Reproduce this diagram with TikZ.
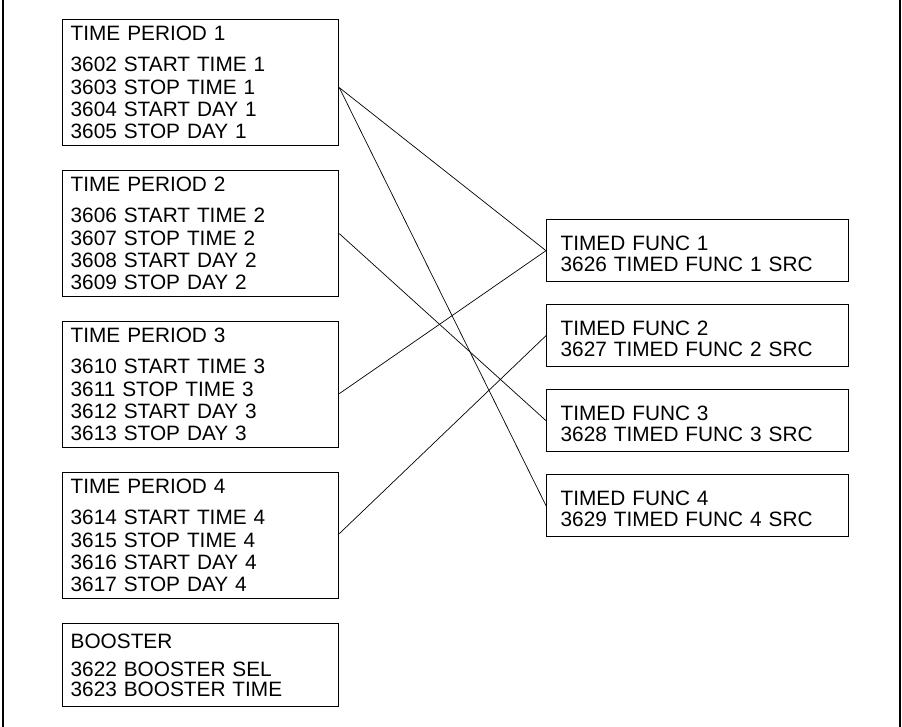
\documentclass[tikz,border=0pt]{standalone}
\usepackage{fontspec}
\setmainfont{Liberation Sans}
\usetikzlibrary{positioning}

\begin{document}
\begin{tikzpicture}[x=1pt,y=-1pt,node distance=23.7pt,
  box/.style={draw,line width=1.3pt,align=left,inner ysep=0pt,
    font=\fontsize{20.8}{22.3}\selectfont},
  period/.style={box,anchor=north west,text width=260pt,inner xsep=8pt,minimum height=126pt},
  timed/.style={box,anchor=north west,text width=274pt,inner xsep=14pt,minimum height=62pt,
    execute at begin node=\rule{0pt}{21pt}},
  link/.style={line width=0.7pt}]
\useasboundingbox (0,0) rectangle (902,727);
% side rules of the page frame
\draw[line width=1.3pt] (3,0) -- (3,727);
\draw[line width=1.3pt] (900,0) -- (900,727);
% time periods, stacked down the left side
\node[period] (tp1) at (62,19)
  {TIME PERIOD 1\\[8.5pt]3602 START TIME 1\\3603 STOP TIME 1\\3604 START DAY 1\\3605 STOP DAY 1};
\node[period,below=of tp1] (tp2)
  {TIME PERIOD 2\\[8.5pt]3606 START TIME 2\\3607 STOP TIME 2\\3608 START DAY 2\\3609 STOP DAY 2};
\node[period,below=of tp2] (tp3)
  {TIME PERIOD 3\\[8.5pt]3610 START TIME 3\\3611 STOP TIME 3\\3612 START DAY 3\\3613 STOP DAY 3};
\node[period,below=of tp3] (tp4)
  {TIME PERIOD 4\\[8.5pt]3614 START TIME 4\\3615 STOP TIME 4\\3616 START DAY 4\\3617 STOP DAY 4};
\node[period,below=of tp4,minimum height=83pt] (boost)
  {BOOSTER\\[6pt]3622 BOOSTER SEL\\[-2pt]3623 BOOSTER TIME};
% timed functions on the right
\node[timed] (tf1) at (546,219) {TIMED FUNC 1\\[-1pt]3626 TIMED FUNC 1 SRC};
\node[timed,below=21.7pt of tf1] (tf2) {TIMED FUNC 2\\[-1pt]3627 TIMED FUNC 2 SRC};
\node[timed,below=21.7pt of tf2] (tf3) {TIMED FUNC 3\\[-1pt]3628 TIMED FUNC 3 SRC};
\node[timed,below=21.7pt of tf3] (tf4) {TIMED FUNC 4\\[-1pt]3629 TIMED FUNC 4 SRC};
% where the links leave the period boxes
\coordinate (p1) at ([yshift=-5pt]tp1.east);
\coordinate (p2) at (tp2.east);
\coordinate (p3) at ([yshift=-9pt]tp3.east);
\coordinate (p4) at ([yshift=2pt]tp4.east);
\draw[link] (p1) -- (tf1.west);
\draw[link] (p1) -- (tf4.west);
\draw[link] (p2) -- (tf3.west);
\draw[link] (p3) -- (tf1.west);
\draw[link] (p4) -- (tf2.west);
\end{tikzpicture}
\end{document}
